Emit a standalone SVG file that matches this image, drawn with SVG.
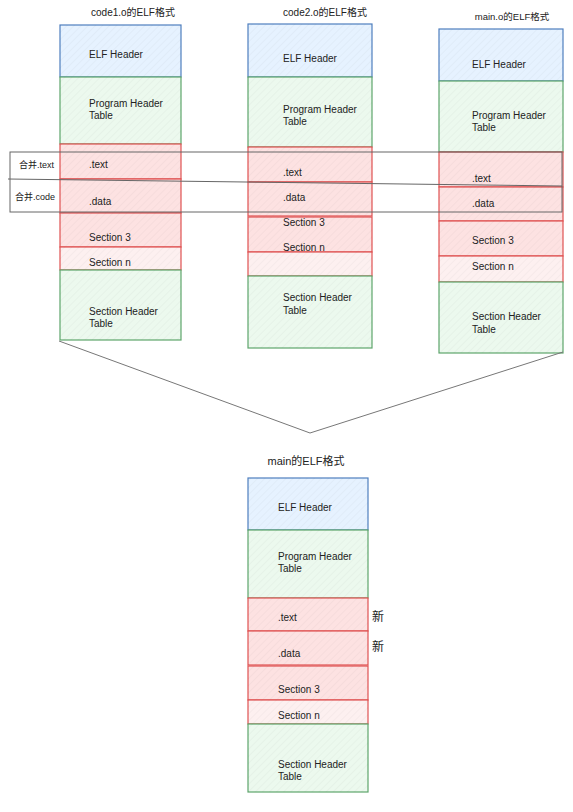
<svg xmlns="http://www.w3.org/2000/svg" width="573" height="812" viewBox="0 0 573 812">
<defs>
<pattern id="hatch" width="5" height="5" patternUnits="userSpaceOnUse" patternTransform="rotate(45)">
<line x1="0" y1="0" x2="0" y2="5" stroke="#000" stroke-opacity="0.05" stroke-width="1"/>
</pattern>
<style>
text{font-family:"Liberation Sans","Noto Sans CJK SC",sans-serif;font-size:10px;fill:#222;dominant-baseline:central}
.t{font-size:10px}
.blue{fill:#e6f2ff;stroke:#4f7fbf;stroke-width:1.2}
.green{fill:#ecf9ee;stroke:#5ea56c;stroke-width:1.2}
.red{fill:#fde2e2;stroke:#e05252;stroke-width:1.2}
.pink{fill:#fdf0f0;stroke:#e05252;stroke-width:1.2}
.h{fill:url(#hatch);stroke:none}
.conn{fill:none;stroke:#777;stroke-width:1}
.merge{fill:none;stroke:#666;stroke-width:1}
</style>
</defs>
<rect width="573" height="812" fill="#fff"/>

<!-- titles -->
<text x="133" y="12" text-anchor="middle">code1.o的ELF格式</text>
<text x="325" y="12" text-anchor="middle">code2.o的ELF格式</text>
<text x="512" y="16" text-anchor="middle" style="font-size:9.5px">main.o的ELF格式</text>
<text x="306" y="461" text-anchor="middle" style="font-size:11px">main的ELF格式</text>

<!-- column 1 -->
<g id="c1-elf"><rect class="blue" x="60" y="25" width="121" height="52"/><rect class="h" x="60" y="25" width="121" height="52"/><text x="89" y="54">ELF Header</text></g>
<g id="c1-pht"><rect class="green" x="60" y="77" width="121" height="67"/><rect class="h" x="60" y="77" width="121" height="67"/><text x="89" y="103">Program Header</text><text x="89" y="115">Table</text></g>
<g id="c1-text"><rect class="red" x="60" y="144" width="121" height="35"/><rect class="h" x="60" y="144" width="121" height="35"/><text x="89" y="164">.text</text></g>
<g id="c1-data"><rect class="red" x="60" y="179" width="121" height="34"/><rect class="h" x="60" y="179" width="121" height="34"/><text x="89" y="201">.data</text></g>
<g id="c1-s3"><rect class="red" x="60" y="213" width="121" height="34"/><rect class="h" x="60" y="213" width="121" height="34"/><text x="89" y="237">Section 3</text></g>
<g id="c1-sn"><rect class="pink" x="60" y="247" width="121" height="23"/><rect class="h" x="60" y="247" width="121" height="23"/><text x="89" y="262">Section n</text></g>
<g id="c1-sht"><rect class="green" x="60" y="270" width="121" height="70"/><rect class="h" x="60" y="270" width="121" height="70"/><text x="89" y="311">Section Header</text><text x="89" y="323">Table</text></g>

<!-- column 2 -->
<g id="c2-elf"><rect class="blue" x="248" y="24" width="124" height="53"/><rect class="h" x="248" y="24" width="124" height="53"/><text x="283" y="58">ELF Header</text></g>
<g id="c2-pht"><rect class="green" x="248" y="77" width="124" height="70"/><rect class="h" x="248" y="77" width="124" height="70"/><text x="283" y="109">Program Header</text><text x="283" y="121">Table</text></g>
<g id="c2-text"><rect class="red" x="248" y="147" width="124" height="35"/><rect class="h" x="248" y="147" width="124" height="35"/><text x="283" y="172">.text</text></g>
<g id="c2-data"><rect class="red" x="248" y="182" width="124" height="34"/><rect class="h" x="248" y="182" width="124" height="34"/><text x="283" y="197">.data</text></g>
<g id="c2-s3"><rect class="red" x="248" y="217" width="124" height="35"/><rect class="h" x="248" y="217" width="124" height="35"/><text x="283" y="222">Section 3</text><text x="283" y="247">Section n</text></g>
<g id="c2-sn"><rect class="pink" x="248" y="252" width="124" height="24"/><rect class="h" x="248" y="252" width="124" height="24"/></g>
<g id="c2-sht"><rect class="green" x="248" y="276" width="124" height="72"/><rect class="h" x="248" y="276" width="124" height="72"/><text x="283" y="297">Section Header</text><text x="283" y="310">Table</text></g>

<!-- column 3 -->
<g id="c3-elf"><rect class="blue" x="439" y="29" width="124" height="52"/><rect class="h" x="439" y="29" width="124" height="52"/><text x="472" y="64">ELF Header</text></g>
<g id="c3-pht"><rect class="green" x="439" y="81" width="124" height="71"/><rect class="h" x="439" y="81" width="124" height="71"/><text x="472" y="115">Program Header</text><text x="472" y="127">Table</text></g>
<g id="c3-text"><rect class="red" x="439" y="152" width="124" height="35"/><rect class="h" x="439" y="152" width="124" height="35"/><text x="472" y="178">.text</text></g>
<g id="c3-data"><rect class="red" x="439" y="187" width="124" height="34"/><rect class="h" x="439" y="187" width="124" height="34"/><text x="472" y="203">.data</text></g>
<g id="c3-s3"><rect class="red" x="439" y="221" width="124" height="35"/><rect class="h" x="439" y="221" width="124" height="35"/><text x="472" y="240">Section 3</text></g>
<g id="c3-sn"><rect class="pink" x="439" y="256" width="124" height="26"/><rect class="h" x="439" y="256" width="124" height="26"/><text x="472" y="266">Section n</text></g>
<g id="c3-sht"><rect class="green" x="439" y="282" width="124" height="71"/><rect class="h" x="439" y="282" width="124" height="71"/><text x="472" y="316">Section Header</text><text x="472" y="329">Table</text></g>

<!-- bottom: main -->
<g id="m-elf"><rect class="blue" x="248" y="478" width="120" height="52"/><rect class="h" x="248" y="478" width="120" height="52"/><text x="278" y="507">ELF Header</text></g>
<g id="m-pht"><rect class="green" x="248" y="530" width="120" height="68"/><rect class="h" x="248" y="530" width="120" height="68"/><text x="278" y="556">Program Header</text><text x="278" y="568">Table</text></g>
<g id="m-text"><rect class="red" x="248" y="598" width="120" height="33"/><rect class="h" x="248" y="598" width="120" height="33"/><text x="278" y="617">.text</text></g>
<g id="m-data"><rect class="red" x="248" y="631" width="120" height="34"/><rect class="h" x="248" y="631" width="120" height="34"/><text x="278" y="653">.data</text></g>
<g id="m-s3"><rect class="red" x="248" y="666" width="120" height="34"/><rect class="h" x="248" y="666" width="120" height="34"/><text x="278" y="689">Section 3</text></g>
<g id="m-sn"><rect class="pink" x="248" y="700" width="120" height="24"/><rect class="h" x="248" y="700" width="120" height="24"/><text x="278" y="715">Section n</text></g>
<g id="m-sht"><rect class="green" x="248" y="724" width="120" height="68"/><rect class="h" x="248" y="724" width="120" height="68"/><text x="278" y="764">Section Header</text><text x="278" y="776">Table</text></g>
<g id="new-labels"><text x="372" y="617" style="font-size:12px">新</text><text x="372" y="647" style="font-size:12px">新</text></g>

<!-- merge boxes -->
<g id="merge">
<rect class="merge" x="10" y="152" width="552" height="60"/>
<line class="merge" x1="8" y1="179" x2="562" y2="186"/>
<text x="19" y="165" style="font-size:9px">合并.text</text>
<text x="15" y="197" style="font-size:9px">合并.code</text>
</g>

<!-- connectors -->
<g id="connectors">
<polyline class="conn" points="59,341 310,433 563,352"/>
</g>
</svg>
